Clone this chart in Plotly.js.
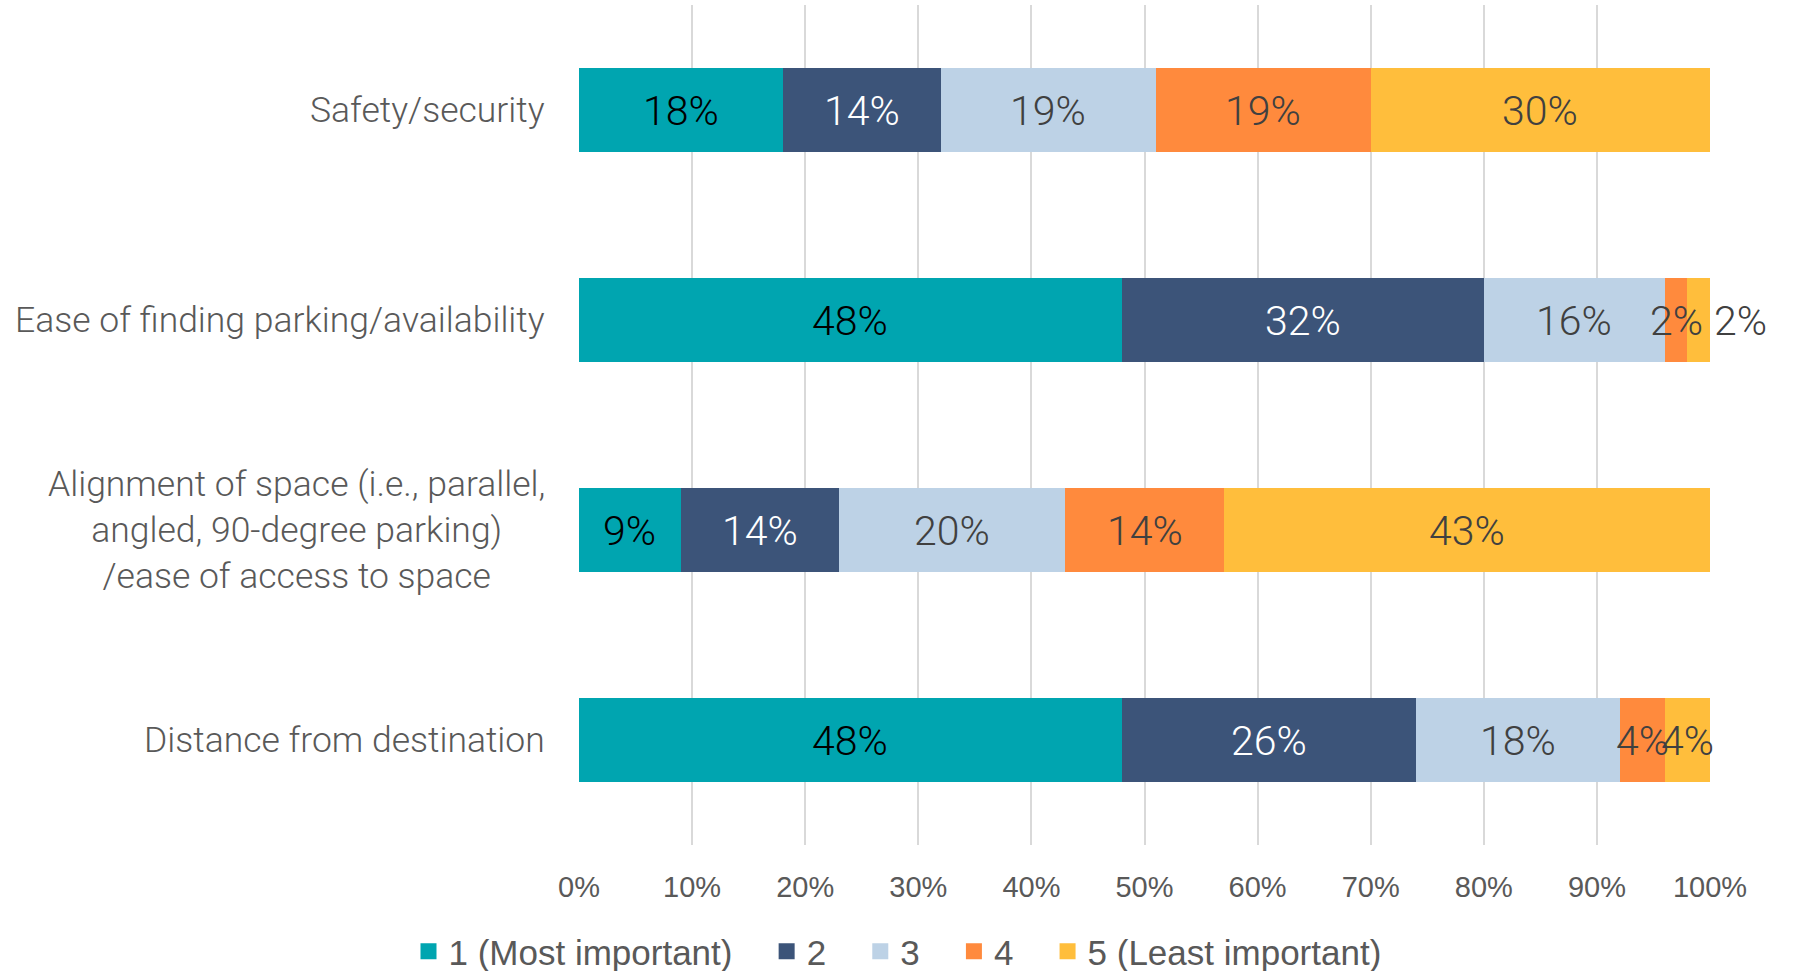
<!DOCTYPE html>
<html>
<head>
<meta charset="utf-8">
<script src="https://cdn.plot.ly/plotly-3.0.1.min.js"></script>
<style>html,body{margin:0;padding:0;background:#fff;}#chart{width:1795px;height:971px;}</style>
</head>
<body>
<div id="chart"></div>
<script>
const categories = [
  "Safety/security",
  "Ease of finding parking/availability",
  "Alignment of space (i.e., parallel,<br>angled, 90-degree parking)<br>/ease of access to space",
  "Distance from destination"
];
const seriesNames = ["1 (Most important)", "2", "3", "4", "5 (Least important)"];
const rank1 = [0.18, 0.48, 0.09, 0.48];
const rank2 = [0.14, 0.32, 0.14, 0.26];
const rank3 = [0.19, 0.16, 0.20, 0.18];
const rank4 = [0.19, 0.02, 0.14, 0.04];
const rank5 = [0.30, 0.02, 0.43, 0.04];
const xTickVals = [0, 0.1, 0.2, 0.3, 0.4, 0.5, 0.6, 0.7, 0.8, 0.9, 1.0];

const seriesValues = [rank1, rank2, rank3, rank4, rank5];
const colors = ["#00A5B0", "#3C5479", "#BDD2E6", "#FF8A3D", "#FFBE3C"];
const textColors = ["#000000", "#FFFFFF", "#404040", "#404040", "#404040"];
const labelFont = "Roboto, 'Liberation Sans', sans-serif";
const NBSP = "\u00A0\u00A0\u00A0";

const barTraces = seriesValues.map((vals, i) => ({
  type: "bar",
  orientation: "h",
  name: seriesNames[i],
  y: categories,
  x: vals,
  marker: {color: colors[i], line: {width: 0}},
  showlegend: false,
  hoverinfo: "skip"
}));

// Legend entries with larger square keys
const legendTraces = seriesNames.map((n, i) => ({
  type: "scatter",
  mode: "markers",
  name: n + (i < seriesNames.length - 1 ? NBSP : ""),
  x: [null],
  y: [null],
  marker: {symbol: "square", size: 16, color: colors[i]},
  showlegend: true,
  hoverinfo: "skip"
}));

// Category labels (centred multi-line, right-aligned block)
const annotations = categories.map(c => ({
  xref: "paper",
  yref: "y",
  x: 0,
  y: c,
  xshift: -32,
  xanchor: "right",
  yanchor: "middle",
  align: "center",
  text: c,
  showarrow: false,
  font: {family: labelFont, size: 35.5, color: "#595959", weight: 300}
}));

// Data labels, drawn above all bars, positioned at segment centres
const cum = categories.map(() => 0);
seriesValues.forEach((vals, i) => {
  const isLast = i === seriesValues.length - 1;
  vals.forEach((v, j) => {
    const outside = isLast && j === 1;
    annotations.push({
      xref: "x",
      yref: "y",
      x: outside ? cum[j] + v : cum[j] + v / 2,
      y: categories[j],
      xanchor: outside ? "left" : "center",
      xshift: outside ? 2 : 0,
      yanchor: "middle",
      yshift: -1,
      text: Math.round(v * 100) + "%",
      showarrow: false,
      font: {family: labelFont, size: 41, color: outside ? "#404040" : textColors[i], weight: 300}
    });
    cum[j] += v;
  });
});

const layout = {
  width: 1795,
  height: 971,
  barmode: "stack",
  bargap: 0.6,
  paper_bgcolor: "#FFFFFF",
  plot_bgcolor: "#FFFFFF",
  margin: {l: 579, r: 85, t: 5, b: 126},
  showlegend: true,
  hovermode: false,
  font: {family: labelFont, color: "#595959"},
  annotations: annotations,
  xaxis: {
    range: [0, 1],
    tickvals: xTickVals,
    tickformat: ".0%",
    showgrid: true,
    gridcolor: "#D9D9D9",
    gridwidth: 2,
    zeroline: false,
    showline: false,
    ticks: "",
    ticklabelstandoff: 22,
    tickfont: {size: 29, color: "#595959", family: "'Liberation Sans', Arial, sans-serif"},
    fixedrange: true
  },
  yaxis: {
    type: "category",
    categoryarray: categories,
    autorange: "reversed",
    showgrid: false,
    zeroline: false,
    showline: false,
    ticks: "",
    showticklabels: false,
    fixedrange: true
  },
  legend: {
    orientation: "h",
    xref: "container",
    yref: "container",
    x: 0.5,
    xanchor: "center",
    y: 0.02,
    yanchor: "middle",
    traceorder: "normal",
    font: {size: 35, color: "#595959", family: "'Liberation Sans', Arial, sans-serif"},
    itemclick: false,
    itemdoubleclick: false
  }
};

Plotly.newPlot("chart", barTraces.concat(legendTraces), layout, {displayModeBar: false, staticPlot: true});
</script>
</body>
</html>
